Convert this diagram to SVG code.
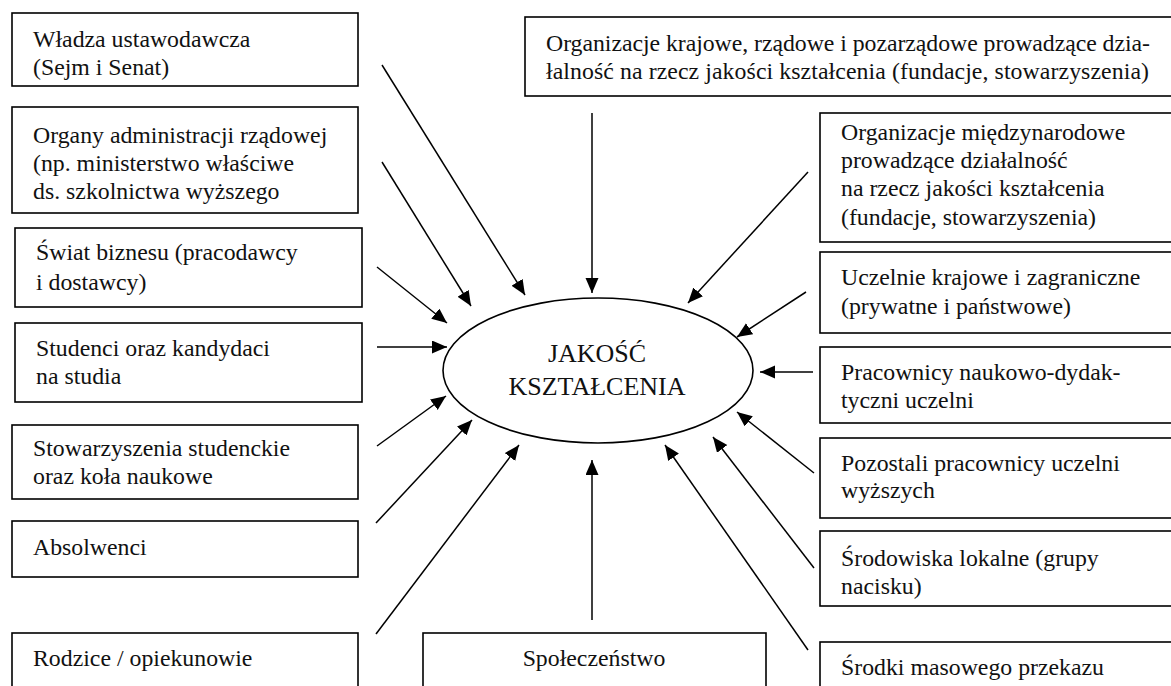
<svg xmlns="http://www.w3.org/2000/svg" width="1171" height="686" viewBox="0 0 1171 686">
<style>
  .box { fill: #ffffff; stroke: #000000; stroke-width: 1.6; }
  text { font-family: 'Liberation Serif', 'DejaVu Serif', serif; fill: #111111; }
  .t { font-size: 23.8px; }
  .c { font-size: 26px; text-anchor: middle; }
  .ln { stroke: #000000; stroke-width: 1.5; fill: none; marker-end: url(#ah); }
</style>
<defs>
  <marker id="ah" markerUnits="userSpaceOnUse" markerWidth="16" markerHeight="14" refX="15" refY="6.5" orient="auto">
    <path d="M0,0 L15,6.5 L0,13 z" fill="#000000"/>
  </marker>
</defs>
<rect width="1171" height="686" fill="#ffffff"/>

<g id="connectors">
  <line class="ln" x1="382" y1="65" x2="525" y2="295"/>
  <line class="ln" x1="382" y1="162" x2="471" y2="306"/>
  <line class="ln" x1="377" y1="267" x2="447" y2="323"/>
  <line class="ln" x1="377" y1="347" x2="447" y2="347"/>
  <line class="ln" x1="377" y1="446" x2="446" y2="396"/>
  <line class="ln" x1="376" y1="523" x2="472" y2="420"/>
  <line class="ln" x1="376" y1="634" x2="519" y2="445"/>
  <line class="ln" x1="592" y1="620" x2="592" y2="460"/>
  <line class="ln" x1="592" y1="113" x2="592" y2="293"/>
  <line class="ln" x1="808" y1="172" x2="688" y2="303"/>
  <line class="ln" x1="806" y1="292" x2="737" y2="337"/>
  <line class="ln" x1="813" y1="372" x2="760" y2="372"/>
  <line class="ln" x1="814" y1="473" x2="737" y2="412"/>
  <line class="ln" x1="814" y1="568" x2="713" y2="437"/>
  <line class="ln" x1="808" y1="650" x2="665" y2="445"/>
</g>

<g id="center">
  <ellipse cx="598" cy="370.5" rx="155" ry="72.5" fill="#ffffff" stroke="#000000" stroke-width="1.6"/>
  <text class="c" x="597" y="362">JAKOŚĆ</text>
  <text class="c" x="597" y="395">KSZTAŁCENIA</text>
</g>

<g id="wladza">
  <rect class="box" x="12" y="13" width="346" height="73"/>
  <text class="t" x="33" y="47">Władza ustawodawcza</text>
  <text class="t" x="33" y="75">(Sejm i Senat)</text>
</g>
<g id="organy">
  <rect class="box" x="12" y="107" width="346" height="106"/>
  <text class="t" x="33" y="143">Organy administracji rządowej</text>
  <text class="t" x="33" y="171">(np. ministerstwo właściwe</text>
  <text class="t" x="33" y="199">ds. szkolnictwa wyższego</text>
</g>
<g id="swiat">
  <rect class="box" x="15" y="228" width="347" height="79"/>
  <text class="t" x="36" y="260">Świat biznesu (pracodawcy</text>
  <text class="t" x="36" y="290">i dostawcy)</text>
</g>
<g id="studenci">
  <rect class="box" x="15" y="323" width="347" height="79"/>
  <text class="t" x="36" y="356">Studenci oraz kandydaci</text>
  <text class="t" x="36" y="384">na studia</text>
</g>
<g id="stowarzyszenia">
  <rect class="box" x="12" y="425" width="346" height="74"/>
  <text class="t" x="33" y="456">Stowarzyszenia studenckie</text>
  <text class="t" x="33" y="484">oraz koła naukowe</text>
</g>
<g id="absolwenci">
  <rect class="box" x="12" y="521" width="346" height="56"/>
  <text class="t" x="33" y="555">Absolwenci</text>
</g>
<g id="rodzice">
  <rect class="box" x="12" y="633" width="346" height="70"/>
  <text class="t" x="33" y="666">Rodzice / opiekunowie</text>
</g>
<g id="spoleczenstwo">
  <rect class="box" x="423" y="633" width="343" height="70"/>
  <text class="t" x="594" y="666" text-anchor="middle">Społeczeństwo</text>
</g>

<g id="org-krajowe">
  <rect class="box" x="525" y="17" width="660" height="79"/>
  <text class="t" x="546" y="51" textLength="604" lengthAdjust="spacing">Organizacje krajowe, rządowe i pozarządowe prowadzące dzia-</text>
  <text class="t" x="546" y="79" textLength="603" lengthAdjust="spacing">łalność na rzecz jakości kształcenia (fundacje, stowarzyszenia)</text>
</g>
<g id="org-miedzynarodowe">
  <rect class="box" x="820" y="113" width="365" height="129"/>
  <text class="t" x="841" y="140">Organizacje międzynarodowe</text>
  <text class="t" x="841" y="168">prowadzące działalność</text>
  <text class="t" x="841" y="196">na rzecz jakości kształcenia</text>
  <text class="t" x="841" y="225">(fundacje, stowarzyszenia)</text>
</g>
<g id="uczelnie">
  <rect class="box" x="820" y="252" width="365" height="81"/>
  <text class="t" x="841" y="285">Uczelnie krajowe i zagraniczne</text>
  <text class="t" x="841" y="314">(prywatne i państwowe)</text>
</g>
<g id="pracownicy">
  <rect class="box" x="820" y="347" width="365" height="76"/>
  <text class="t" x="841" y="380">Pracownicy naukowo-dydak-</text>
  <text class="t" x="841" y="408">tyczni uczelni</text>
</g>
<g id="pozostali">
  <rect class="box" x="820" y="438" width="365" height="80"/>
  <text class="t" x="841" y="471">Pozostali pracownicy uczelni</text>
  <text class="t" x="841" y="498">wyższych</text>
</g>
<g id="srodowiska">
  <rect class="box" x="820" y="531" width="365" height="75"/>
  <text class="t" x="841" y="566">Środowiska lokalne (grupy</text>
  <text class="t" x="841" y="594">nacisku)</text>
</g>
<g id="srodki">
  <rect class="box" x="820" y="642" width="365" height="70"/>
  <text class="t" x="841" y="675">Środki masowego przekazu</text>
</g>
</svg>
